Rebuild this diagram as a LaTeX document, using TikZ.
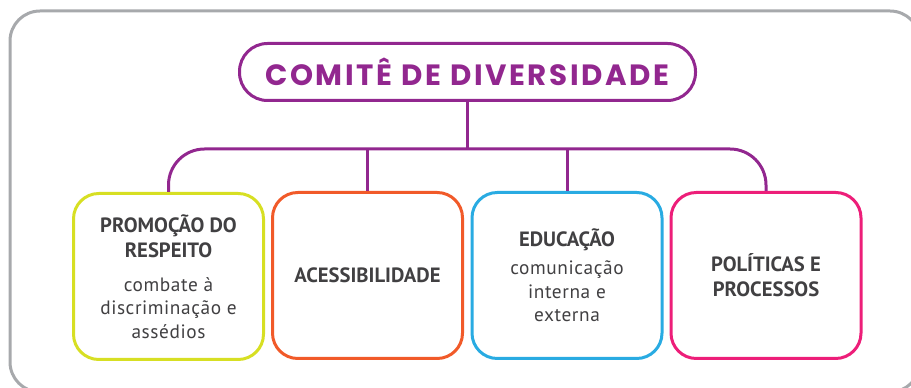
\documentclass[tikz,border=0pt]{standalone}
\usepackage{fontspec}
\setmainfont{PT Sans}
\newfontfamily\titlefont{Poppins}[LetterSpace=9]
\newfontfamily\subfont{PT Sans}[LetterSpace=3]
\definecolor{roxo}{HTML}{92278F}
\definecolor{verdelima}{HTML}{D7DF23}
\definecolor{laranja}{HTML}{F15A29}
\definecolor{azul}{HTML}{29ABE2}
\definecolor{rosa}{HTML}{ED1E79}
\definecolor{cinza}{HTML}{A7A9AC}
\definecolor{texto}{HTML}{414042}
\newcommand{\hd}{\bfseries\fontsize{15.5}{17.6}\selectfont}
\newcommand{\sub}{\subfont\mdseries\fontsize{14.5}{17.6}\selectfont}
\tikzstyle{every node}=[align=center]
\tikzstyle{area}=[draw, line width=2.25pt, rounded corners=19pt, minimum width=142.5pt, minimum height=124.5pt, inner sep=0pt, text=texto, font=\fontsize{14}{17.6}\selectfont]
\tikzstyle{link}=[draw=roxo, line width=2.25pt]

\begin{document}
\begin{tikzpicture}[x=0.75pt, y=-0.75pt]
\useasboundingbox (0,0) rectangle (911,388);
\clip (0,0) rectangle (911,388);

\draw[cinza, line width=2.25pt, rounded corners=22.5pt] (10,11) rectangle (920,392);

\node[draw=roxo, line width=2.25pt, rounded corners=21pt, minimum width=342pt, minimum height=42.75pt, inner sep=0pt, text=roxo, font=\titlefont\bfseries\fontsize{22}{24}\selectfont] (comite) at (467.5,72) {COMITÊ DE DIVERSIDADE};

\node[area, draw=verdelima] (promocao) at (168.5,276.5) {\hd PROMOÇÃO DO\\[1.2pt]\hd RESPEITO\\[8pt]\sub combate à\\\sub discriminação e\\\sub assédios};
\node[area, draw=laranja] (acessibilidade) at (367.5,275.5) {\hd ACESSIBILIDADE};
\node[area, draw=azul] (educacao) at (567,275.5) {\hd EDUCAÇÃO\\[3.4pt]\sub comunicação\\\sub interna e\\\sub externa};
\node[area, draw=rosa] (politicas) at (766,275.5) {\hd POLÍTICAS E\\[1.2pt]\hd PROCESSOS};

\coordinate (bus) at (467.5,149);
\draw[link] (comite) -- (comite |- bus);
\draw[link, rounded corners=27pt] (promocao.north) -- (promocao.north |- bus) -- (politicas.north |- bus) -- (politicas.north);
\draw[link] (acessibilidade.north) -- (acessibilidade.north |- bus);
\draw[link] (educacao.north) -- (educacao.north |- bus);
\end{tikzpicture}
\end{document}
